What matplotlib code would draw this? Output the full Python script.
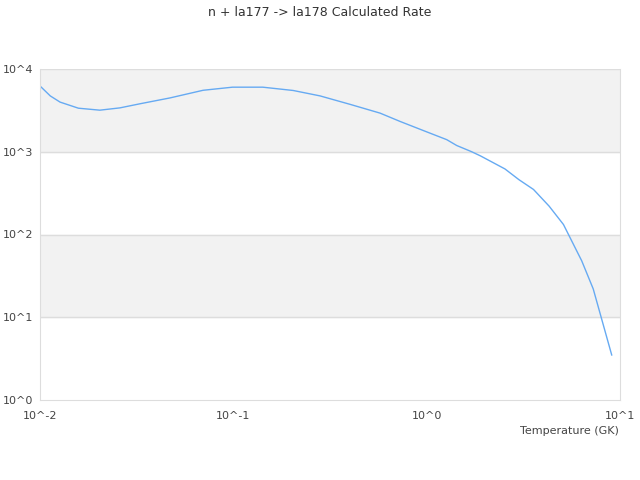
import numpy as np
import matplotlib
matplotlib.use('Agg')
import matplotlib.pyplot as plt

# values
temperature = [0.01, 0.0113, 0.0127, 0.0158, 0.0204, 0.0259, 0.0329, 0.047, 0.0697,
               0.099, 0.142, 0.204, 0.281, 0.40, 0.574, 0.73, 1.0, 1.27, 1.43, 1.71,
               1.9, 2.54, 3.0, 3.57, 4.3, 5.1, 6.34, 7.27, 9.06]
rate = [6240, 4730, 3980, 3360, 3180, 3390, 3800, 4470, 5530,
        6030, 6030, 5500, 4730, 3750, 2930, 2320, 1740, 1400, 1190, 1000,
        890, 620, 460, 350, 220, 132, 48, 22, 3.5]

xticks = [0.01, 0.1, 1, 10]
xtick_labels = ['10^-2', '10^-1', '10^0', '10^1']
yticks = [1, 10, 100, 1000, 10000]
ytick_labels = ['10^0', '10^1', '10^2', '10^3', '10^4']

fig = plt.figure(figsize=(6.4, 4.8), dpi=100)
ax = fig.add_axes([40/640, 1 - 400/480, 580/640, 331/480])

# alternating bands like the reference
ax.axhspan(1000, 10000, color='#f2f2f2', zorder=0)
ax.axhspan(10, 100, color='#f2f2f2', zorder=0)
for y in yticks[1:]:
    ax.axhline(y, color='#dddddd', lw=1, zorder=1)

ax.plot(temperature, rate, color='#66aaf2', lw=1, zorder=2)

ax.set_xscale('log')
ax.set_yscale('log')
ax.set_xlim(0.01, 10)
ax.set_ylim(1, 10000)
ax.set_xticks(xticks)
ax.set_xticklabels(xtick_labels)
ax.set_yticks(yticks)
ax.set_yticklabels(ytick_labels)
ax.minorticks_off()
ax.tick_params(length=0, labelsize=8, colors='#444444')
ax.tick_params(axis='x', pad=8)
ax.tick_params(axis='y', pad=5)

for side in ['left', 'bottom', 'right']:
    ax.spines[side].set_color('#dddddd')
ax.spines['top'].set_visible(False)

fig.text(619/640, 1 - 431/480, 'Temperature (GK)', ha='right', va='center',
         fontsize=8, color='#444444')
fig.text(0.5, 1 - 12/480, 'n + la177 -> la178 Calculated Rate', ha='center',
         va='center', fontsize=9, color='#333333')

fig.savefig('out.png')
